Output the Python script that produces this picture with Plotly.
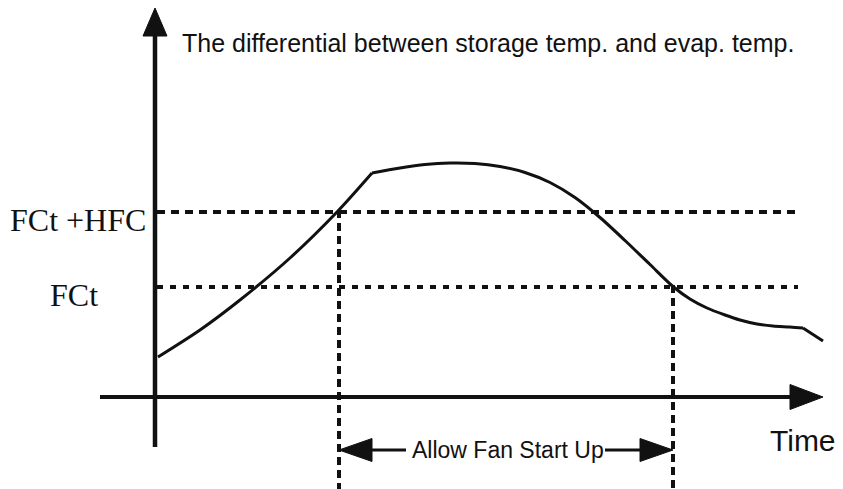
import plotly.graph_objects as go

# ---- data (time offset from origin, differential value) ----
curve_t = [3, 45, 85, 135, 182, 217, 245, 270, 295, 320, 345, 370, 395, 420, 445, 470, 495, 518, 535, 552, 570, 585, 602, 618, 635, 648, 668]
curve_d = [40, 67, 97, 139, 185, 224, 229, 232.5, 234, 233.5, 230.5, 224.5, 214.5, 199.5, 179.5, 156.5, 132.5, 110.5, 98, 89, 82, 77, 73, 71, 70, 69, 56]
kink_index = [5, 25]  # indices where the curve has corners

level_names = ["FCt +HFC", "FCt"]
level_values = [185, 110]
level_end = 643
cross_times = [184, 518]

title_text = "The differential between storage temp. and evap. temp."
x_label = "Time"
span_label = "Allow Fan Start Up"

X_RANGE = [-155, 688]
Y_RANGE = [-92, 397]

fig = go.Figure()
BLACK = "#111111"
SANS = "Liberation Sans, Arial, sans-serif"
SERIF = "Liberation Serif, Times New Roman, serif"

def line(xs, ys, width, dash="solid", shape="linear", smoothing=None):
    kw = dict(color=BLACK, width=width, dash=dash, shape=shape)
    if smoothing is not None:
        kw["smoothing"] = smoothing
    fig.add_trace(go.Scatter(x=xs, y=ys, mode="lines", line=kw, hoverinfo="skip"))

def tri(xs, ys):
    fig.add_trace(go.Scatter(x=xs, y=ys, mode="lines", fill="toself", fillcolor=BLACK,
                             line=dict(color=BLACK, width=1), hoverinfo="skip"))

# axes
line([0, 0], [-50, 361], 4.5)
tri([-12, 12, 0, -12], [361, 361, 389, 361])
line([-55, 635], [0, 0], 4)
tri([635, 635, 668, 635], [-12.5, 12.5, 0, -12.5])

# threshold lines
line([2, level_end], [level_values[0]] * 2, 4, dash="8px,6px")
line([2, level_end], [level_values[1]] * 2, 4, dash="6px,7px")

# vertical dashed lines at crossing times
line([cross_times[0]] * 2, [level_values[0] + 2, Y_RANGE[0]], 4, dash="8px,5px")
line([cross_times[1]] * 2, [level_values[1] + 2, Y_RANGE[0]], 4, dash="8px,5px")

# curve (split at corners)
a, b = kink_index
line(curve_t[:a + 1], curve_d[:a + 1], 3, shape="spline", smoothing=0.8)
line(curve_t[a:b + 1], curve_d[a:b + 1], 3, shape="spline", smoothing=0.8)
line(curve_t[b:], curve_d[b:], 3)

# span arrows
ya = -53
line([cross_times[0] + 33, cross_times[0] + 67], [ya, ya], 3)
tri([cross_times[0], cross_times[0] + 33, cross_times[0] + 33, cross_times[0]], [ya, ya + 11.5, ya - 11.5, ya])
line([cross_times[1] - 68, cross_times[1] - 33], [ya, ya], 3)
tri([cross_times[1], cross_times[1] - 33, cross_times[1] - 33, cross_times[1]], [ya, ya + 11.5, ya - 11.5, ya])

# texts
fig.add_annotation(x=25, y=354, text=title_text, showarrow=False, xanchor="left", yanchor="middle",
                   font=dict(family=SANS, size=25, color=BLACK))
fig.add_annotation(x=-77, y=level_values[0] - 8, text=level_names[0], showarrow=False, xanchor="center",
                   yanchor="middle", font=dict(family=SERIF, size=32, color=BLACK))
fig.add_annotation(x=-81, y=level_values[1] - 8, text=level_names[1], showarrow=False, xanchor="center",
                   yanchor="middle", font=dict(family=SERIF, size=32, color=BLACK))
fig.add_annotation(x=613, y=-43, text=x_label, showarrow=False, xanchor="left", yanchor="middle",
                   font=dict(family=SANS, size=30, color=BLACK))
fig.add_annotation(x=(cross_times[0] + cross_times[1]) / 2 + 2, y=ya, text=span_label, showarrow=False,
                   xanchor="center", yanchor="middle", font=dict(family=SANS, size=23, color=BLACK))

fig.update_layout(width=843, height=489, margin=dict(l=0, r=0, t=0, b=0),
                  paper_bgcolor="white", plot_bgcolor="white", showlegend=False,
                  xaxis=dict(range=X_RANGE, visible=False, fixedrange=True),
                  yaxis=dict(range=Y_RANGE, visible=False, fixedrange=True))
fig.write_html("out.html", config={"displayModeBar": False},
               post_script="document.body.style.margin='0';")
